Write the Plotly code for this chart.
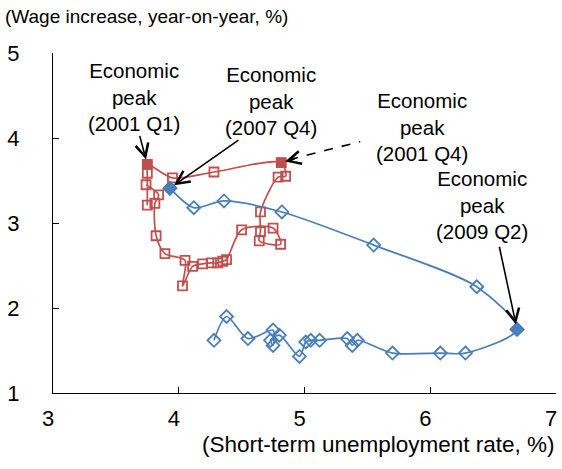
import plotly.graph_objects as go

# ---- data ----
red_x = [3.75, 3.75, 3.75, 3.95, 4.28, 4.815, 4.85, 4.79, 4.65, 4.65, 4.64, 4.81, 4.75, 4.50,
         4.38, 4.35, 4.31, 4.26, 4.19, 4.11, 4.03, 4.05, 3.89, 3.82, 3.81, 3.84, 3.74]
red_y = [3.21, 3.585, 3.69, 3.53, 3.60, 3.71, 3.55, 3.54, 3.13, 2.90, 2.79, 2.75, 2.94, 2.92,
         2.57, 2.55, 2.53, 2.53, 2.52, 2.49, 2.26, 2.56, 2.64, 2.85, 3.23, 3.33, 3.45]

blue_x = [3.93, 4.12, 4.36, 4.82, 5.55, 6.37, 6.69, 6.28, 6.08, 5.70, 5.42, 5.38, 5.34, 5.12,
          5.05, 5.01, 4.96, 4.80, 4.73, 4.75, 4.75, 4.55, 4.38, 4.28]
blue_y = [3.41, 3.18, 3.26, 3.13, 2.74, 2.25, 1.75, 1.47, 1.47, 1.47, 1.62, 1.56, 1.64, 1.62,
          1.62, 1.60, 1.43, 1.68, 1.62, 1.56, 1.74, 1.64, 1.90, 1.62]

x_ticks = [3, 4, 5, 6, 7]
y_ticks = [1, 2, 3, 4, 5]

# index of labelled peaks
red_peak_a = 2   # 2001 Q1
red_peak_b = 5   # 2001 Q4
blue_peak_a = 0  # 2007 Q4
blue_peak_b = 6  # 2009 Q2

peak_text = {
    "a": "Economic<br>peak<br>(2001 Q1)",
    "b": "Economic<br>peak<br>(2007 Q4)",
    "c": "Economic<br>peak<br>(2001 Q4)",
    "d": "Economic<br>peak<br>(2009 Q2)",
}
y_title = "(Wage increase, year-on-year, %)"
x_title = "(Short-term unemployment rate, %)"

RED = "#C0504D"
BLUE = "#4A7EBB"
FONT = "Liberation Sans, Arial, sans-serif"
TICKFONT = "Liberation Sans Narrow, Liberation Sans, Arial, sans-serif"

W, H = 562, 469
L, R, T, B = 53, 6, 53, 76
PW, PH = W - L - R, H - T - B


def px(xp):
    return (xp - L) / PW


def py(yp):
    return (H - B - yp) / PH


fig = go.Figure()

fig.add_trace(go.Scatter(
    x=red_x, y=red_y, mode="lines+markers",
    line=dict(color=RED, width=1.7, shape="spline", smoothing=0.8),
    marker=dict(symbol="square-open", size=9, color=RED, line=dict(width=1.8, color=RED)),
    hoverinfo="skip"))
fig.add_trace(go.Scatter(
    x=blue_x, y=blue_y, mode="lines+markers",
    line=dict(color=BLUE, width=1.7, shape="spline", smoothing=0.8),
    marker=dict(symbol="diamond-open", size=10, color=BLUE, line=dict(width=1.8, color=BLUE)),
    hoverinfo="skip"))
fig.add_trace(go.Scatter(
    x=[red_x[red_peak_a], red_x[red_peak_b]], y=[red_y[red_peak_a], red_y[red_peak_b]],
    mode="markers", marker=dict(symbol="square", size=9, color=RED, line=dict(width=1, color=RED)),
    hoverinfo="skip"))
fig.add_trace(go.Scatter(
    x=[blue_x[blue_peak_a], blue_x[blue_peak_b]], y=[blue_y[blue_peak_a], blue_y[blue_peak_b]],
    mode="markers", marker=dict(symbol="diamond", size=11, color=BLUE, line=dict(width=1, color=BLUE)),
    hoverinfo="skip"))

ann = []
tfont = dict(family=FONT, size=20.5, color="black")
ann.append(dict(xref="paper", yref="paper", x=px(134), y=py(97), text=peak_text["a"],
                showarrow=False, font=tfont, xanchor="center", yanchor="middle"))
ann.append(dict(xref="paper", yref="paper", x=px(271), y=py(101), text=peak_text["b"],
                showarrow=False, font=tfont, xanchor="center", yanchor="middle"))
ann.append(dict(xref="paper", yref="paper", x=px(422), y=py(127), text=peak_text["c"],
                showarrow=False, font=tfont, xanchor="center", yanchor="middle"))
ann.append(dict(xref="paper", yref="paper", x=px(482), y=py(205), text=peak_text["d"],
                showarrow=False, font=tfont, xanchor="center", yanchor="middle"))

arrow_common = dict(xref="x", yref="y", axref="pixel", ayref="pixel", text="", showarrow=True,
                    arrowhead=5, arrowsize=1.6, arrowwidth=1.6, arrowcolor="black")
ann.append(dict(x=red_x[red_peak_a], y=red_y[red_peak_a], ax=-8, ay=-30, standoff=5, **arrow_common))
ann.append(dict(x=blue_x[blue_peak_a], y=blue_y[blue_peak_a], ax=70, ay=-49, standoff=5, **arrow_common))
ann.append(dict(x=blue_x[blue_peak_b], y=blue_y[blue_peak_b], ax=-18, ay=-84, standoff=5, **arrow_common))
# dashed arrow: short solid head + dashed shaft
ann.append(dict(x=red_x[red_peak_b], y=red_y[red_peak_b], ax=15, ay=-4, standoff=4, **arrow_common))

# axis titles
ann.append(dict(xref="paper", yref="paper", x=px(3), y=py(17), text=y_title, showarrow=False,
                xanchor="left", yanchor="middle", font=dict(family=FONT, size=19, color="black")))
ann.append(dict(xref="paper", yref="paper", x=px(557), y=py(445), text=x_title, showarrow=False,
                xanchor="right", yanchor="middle", font=dict(family=FONT, size=22.5, color="black")))

shapes = [dict(type="line", xref="x", yref="y", xsizemode="pixel", ysizemode="pixel",
               xanchor=red_x[red_peak_b], yanchor=red_y[red_peak_b],
               x0=8, y0=3, x1=79, y1=21, line=dict(color="black", width=1.6, dash="dash"))]

axis_common = dict(ticks="inside", ticklen=6, tickwidth=1, tickcolor="black",
                   showline=True, linecolor="black", linewidth=1,
                   showgrid=False, zeroline=False, automargin=False,
                   ticklabeloverflow="allow",
                   tickfont=dict(family=TICKFONT, size=22, color="black"))

fig.update_layout(
    template="none",
    width=W, height=H, margin=dict(l=L, r=R, t=T, b=B, autoexpand=False),
    plot_bgcolor="white", paper_bgcolor="white", showlegend=False,
    annotations=ann, shapes=shapes,
    xaxis=dict(range=[3, 7], tickvals=x_ticks, ticktext=[str(v) for v in x_ticks],
               ticklabelstandoff=6, ticklabelshift=-5, **axis_common),
    yaxis=dict(range=[1, 5], tickvals=y_ticks, ticktext=[str(v) for v in y_ticks],
               ticklabelstandoff=28, **axis_common),
)

fig.write_html("out.html", config={"displayModeBar": False},
               post_script="document.body.style.margin='0';")
